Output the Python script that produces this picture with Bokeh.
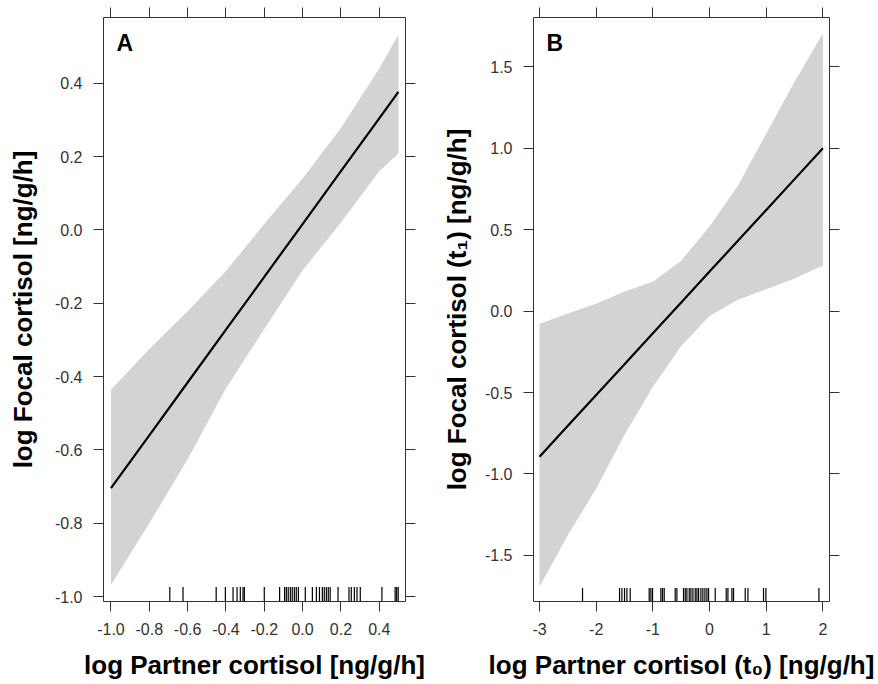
from bokeh.plotting import figure
from bokeh.models import Range1d, FixedTicker, LinearAxis, Label
from bokeh.layouts import row
from bokeh.embed import file_html
from bokeh.resources import INLINE

# ---------------- Panel A data ----------------
a_x = [-1.0, -0.8, -0.6, -0.4, -0.2, 0.0, 0.2, 0.4, 0.5]
a_fit = [-0.704, -0.560, -0.416, -0.272, -0.128, 0.016, 0.160, 0.304, 0.376]
a_upper = [-0.436, -0.325, -0.222, -0.112, 0.016, 0.14, 0.278, 0.44, 0.532]
a_lower = [-0.967, -0.80, -0.625, -0.432, -0.27, -0.11, 0.02, 0.16, 0.208]
a_rug = [-0.693, -0.624, -0.451, -0.403, -0.363, -0.342, -0.325, -0.311, -0.304,
         -0.200, -0.120, -0.094, -0.085, -0.075, -0.064, -0.054, -0.043, -0.033,
         -0.022, 0.014, 0.051, 0.072, 0.088, 0.103, 0.113, 0.124, 0.134, 0.144,
         0.185, 0.242, 0.254, 0.270, 0.284, 0.301, 0.414, 0.483, 0.491, 0.499]
a_xticks = [-1.0, -0.8, -0.6, -0.4, -0.2, 0.0, 0.2, 0.4]
a_xlabels = ["-1.0", "-0.8", "-0.6", "-0.4", "-0.2", "0.0", "0.2", "0.4"]
a_yticks = [-1.0, -0.8, -0.6, -0.4, -0.2, 0.0, 0.2, 0.4]
a_ylabels = ["-1.0", "-0.8", "-0.6", "-0.4", "-0.2", "0.0", "0.2", "0.4"]
a_xlim = (-1.039, 0.537)
a_ylim = (-1.013, 0.579)

# ---------------- Panel B data ----------------
b_x = [-3.0, -2.5, -2.0, -1.5, -1.0, -0.5, 0.0, 0.5, 1.0, 1.5, 2.0]
b_fit = [-0.894, -0.704, -0.515, -0.326, -0.136, 0.053, 0.243, 0.432, 0.622, 0.811, 1.0]
b_upper = [-0.078, -0.015, 0.045, 0.12, 0.18, 0.31, 0.52, 0.77, 1.09, 1.41, 1.706]
b_lower = [-1.693, -1.375, -1.09, -0.76, -0.465, -0.215, -0.03, 0.07, 0.135, 0.20, 0.281]
b_rug = [-2.241, -1.588, -1.546, -1.500, -1.458, -1.400, -1.065, -1.035, -1.006,
         -0.859, -0.830, -0.800, -0.606, -0.576, -0.459, -0.429, -0.400, -0.359,
         -0.329, -0.294, -0.253, -0.223, -0.194, -0.153, -0.118, -0.082, -0.047,
         -0.018, 0.100, 0.294, 0.324, 0.394, 0.423, 0.629, 0.677, 0.952, 0.994, 1.929]
b_xticks = [-3, -2, -1, 0, 1, 2]
b_xlabels = ["-3", "-2", "-1", "0", "1", "2"]
b_yticks = [-1.5, -1.0, -0.5, 0.0, 0.5, 1.0, 1.5]
b_ylabels = ["-1.5", "-1.0", "-0.5", "0.0", "0.5", "1.0", "1.5"]
b_xlim = (-3.106, 2.116)
b_ylim = (-1.784, 1.804)

FONT = "Liberation Sans"
TICK_COLOR = "#333333"
BAND = "#d3d3d3"
H = 682
MB_TOP = 17
MB_BOTTOM = 81


def style_axis(ax, ticks, labels=None, show_labels=True):
    ax.ticker = FixedTicker(ticks=ticks)
    ax.minor_tick_line_color = None
    ax.major_tick_in = 0
    ax.major_tick_out = 10
    ax.major_tick_line_color = TICK_COLOR
    ax.major_tick_line_width = 1
    ax.axis_line_color = None
    if show_labels:
        ax.major_label_overrides = {t: l for t, l in zip(ticks, labels)}
        ax.major_label_text_font = FONT
        ax.major_label_text_font_size = "16px"
        ax.major_label_text_color = TICK_COLOR
        ax.major_label_standoff = 11
    else:
        ax.major_label_text_font_size = "0px"
        ax.major_label_standoff = 0
        ax.major_label_overrides = {t: "" for t in ticks}


def make_panel(width, mb_left, mb_right, xlim, ylim, xs, fit, lo, up, rug,
               xticks, xlabels, yticks, ylabels, xtitle, ytitle, letter, rug_px,
               ylab_standoff):
    p = figure(width=width, height=H, output_backend="svg", toolbar_location=None,
               x_range=Range1d(*xlim), y_range=Range1d(*ylim),
               x_axis_location=None, y_axis_location=None,
               min_border_left=mb_left, min_border_right=mb_right,
               min_border_top=MB_TOP, min_border_bottom=MB_BOTTOM)
    p.grid.visible = False
    p.outline_line_color = "#333333"
    p.outline_line_width = 1
    p.background_fill_color = "white"
    p.border_fill_color = "white"

    bottom = LinearAxis(axis_label=xtitle)
    style_axis(bottom, xticks, xlabels)
    left = LinearAxis(axis_label=ytitle)
    style_axis(left, yticks, ylabels)
    top = LinearAxis()
    style_axis(top, xticks, show_labels=False)
    right = LinearAxis()
    style_axis(right, yticks, show_labels=False)
    for ax in (bottom, left):
        ax.axis_label_text_font = FONT
        ax.axis_label_text_font_style = "bold"
        ax.axis_label_text_font_size = "26px"
        ax.axis_label_text_color = "black"
    bottom.axis_label_standoff = 12
    left.axis_label_standoff = ylab_standoff
    p.add_layout(bottom, "below")
    p.add_layout(left, "left")
    p.add_layout(top, "above")
    p.add_layout(right, "right")

    p.varea(x=xs, y1=lo, y2=up, fill_color=BAND, fill_alpha=1.0)
    p.line(x=xs, y=fit, line_color="black", line_width=2.2)

    frame_h = H - MB_TOP - MB_BOTTOM
    rug_len = (ylim[1] - ylim[0]) * rug_px / frame_h
    p.segment(x0=rug, y0=[ylim[0]] * len(rug), x1=rug, y1=[ylim[0] + rug_len] * len(rug),
              line_color="black", line_width=1.2)

    frame_w = width - mb_left - mb_right
    lx = xlim[0] + (xlim[1] - xlim[0]) * 13.0 / frame_w
    ly = ylim[1] - (ylim[1] - ylim[0]) * 12.0 / frame_h
    p.add_layout(Label(x=lx, y=ly, text=letter, text_font=FONT, text_font_style="bold",
                       text_font_size="23px", text_baseline="top", text_align="left",
                       text_color="black"))
    return p


pa = make_panel(436, 103, 31, a_xlim, a_ylim, a_x, a_fit, a_lower, a_upper, a_rug,
                a_xticks, a_xlabels, a_yticks, a_ylabels,
                "log Partner cortisol [ng/g/h]", "log Focal cortisol [ng/g/h]", "A", 14.5, 14)
pb = make_panel(440, 97, 47, b_xlim, b_ylim, b_x, b_fit, b_lower, b_upper, b_rug,
                b_xticks, b_xlabels, b_yticks, b_ylabels,
                "log Partner cortisol (t\u2080) [ng/g/h]", "log Focal cortisol (t\u2081) [ng/g/h]", "B", 13.5, 10)

layout = row(pa, pb)
open("out.html", "w").write(file_html(layout, INLINE))
